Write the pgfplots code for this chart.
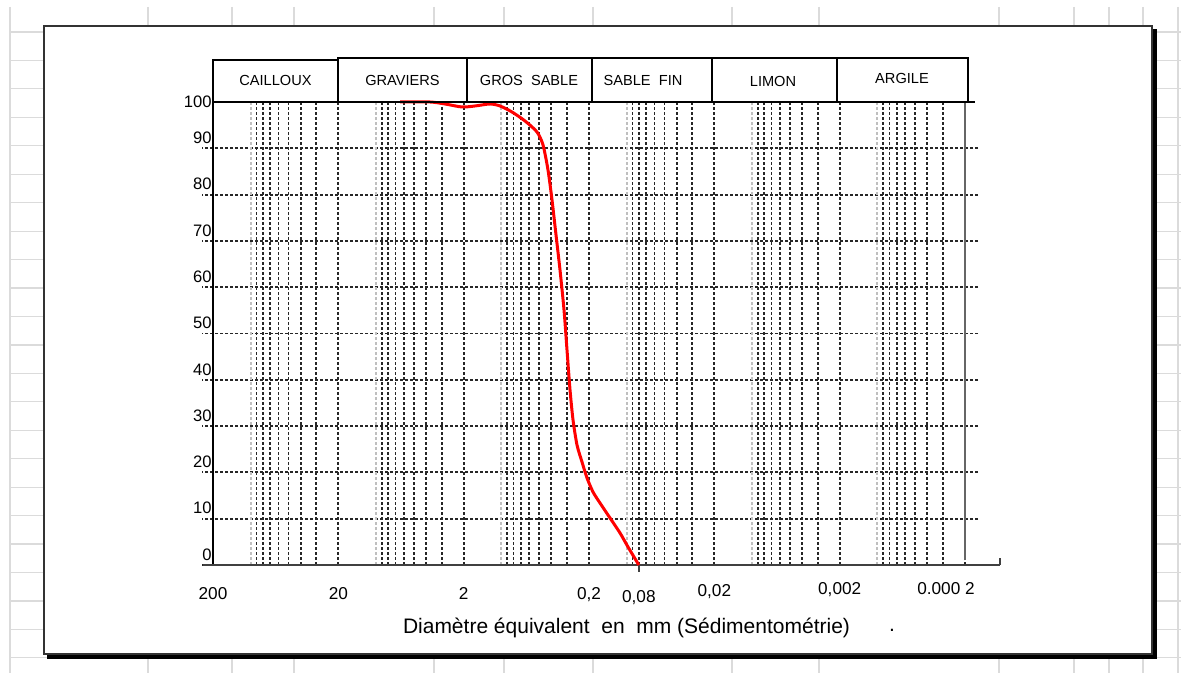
\documentclass[border=0pt]{standalone}
\usepackage{fontspec}
\setmainfont{Liberation Sans}
\usepackage{pgfplots}
\pgfplotsset{compat=1.18}
\begin{document}
\begin{tikzpicture}
\useasboundingbox (0,0) rectangle (590.5pt,336.5pt);
\begin{scope}[x=0.5pt,y=-0.5pt,yshift=336.5pt]
  \foreach \cx in {10,148,232,294,434,504,593,732,819,999,1074,1109,1143,1178}
    \draw[black!14, line width=0.6pt] (\cx,7) -- (\cx,673);
  \foreach \k in {0,...,22}
    \draw[black!14, line width=0.6pt] (10,{32+28.45*\k}) -- (1181,{32+28.45*\k});
  \fill[black] (47,29) rectangle (1157,659);
  \filldraw[fill=white, draw=black!80, line width=0.6pt] (44,26) rectangle (1152,654);
\end{scope}
\begin{axis}[
  at={(101pt,54pt)}, anchor=south west,
  scale only axis, width=388pt, height=231.5pt,
  xmode=log, log basis x=10, x dir=reverse,
  xmin=0.0001575, xmax=244.8, ymin=0, ymax=100,
  clip=false,
  axis line style={draw=none},
  major tick length=0pt, minor tick length=0pt,
  /pgf/number format/assume math mode=true,
  xtick={200,20,2,0.2,0.08,0.02,0.002,0.0002},
  xticklabels={200,20,2,{0,2},{\raisebox{-1.5pt}[\height]{0,08}},{\raisebox{1.5pt}[\height]{0,02}},{\raisebox{2.5pt}[\height]{0,002}},{\raisebox{2.5pt}[\height]{\makebox[0pt]{0.000 2\hspace{19pt}}}}},
  xticklabel style={font=\fontsize{8.6pt}{10pt}\selectfont, anchor=north, inner sep=0pt, yshift=-11pt},
  minor xtick={20,30,40,50,60,70,80,90,2,3,4,5,6,7,8,9,0.2,0.3,0.4,0.5,0.6,0.7,0.8,0.9,0.02,0.03,0.04,0.05,0.06,0.07,0.08,0.09,0.002,0.003,0.004,0.005,0.006,0.007,0.008,0.009,0.0002,0.0003,0.0004,0.0005,0.0006,0.0007,0.0008,0.0009},
  xminorgrids=true, xmajorgrids=false,
  minor grid style={black!85, line width=0.95pt, dash pattern=on 1.6pt off 0.9pt},
  extra x ticks={100,10,1,0.1,0.01,0.001},
  extra x tick labels={},
  extra x tick style={grid=major, major grid style={black!25, line width=0.95pt, dash pattern=on 1.6pt off 0.9pt}},
  ytick={0,10,...,90},
  yticklabels={0,10,20,30,40,50,60,70,80,90},
  ymajorgrids=true,
  major grid style={black!85, line width=0.95pt, dash pattern=on 1.6pt off 0.9pt},
  yticklabel style={font=\fontsize{8.3pt}{10pt}\selectfont, anchor=east, inner sep=0pt, xshift=5pt, yshift=5.25pt},
  extra y ticks={100}, extra y tick labels={100},
  extra y tick style={grid=none, yticklabel style={yshift=-5.25pt}},
]
\draw[black, line width=1.1pt] (axis cs:200,0) -- (axis cs:200,100);
\draw[black!60, line width=0.6pt] (axis cs:0.0002,1) -- (axis cs:0.0002,100);
\draw[black!75, line width=1pt] (axis cs:240.3,0) -- (axis cs:0.0001052,0);
\draw[black!75, line width=1pt] (axis cs:0.0001052,0) -- ++(0pt,3.5pt);
\draw[black!75, line width=1pt] (axis cs:0.08,0) -- ++(0pt,-3.5pt);
\addplot[red, line width=1.5pt, smooth, tension=0.45] coordinates {
(6.44,100) (3.71,100) (2.817,99.57) (2.062,98.92) (1.623,99.14) (1.232,99.57) (1.026,99.14)
(0.823,97.84) (0.648,95.90) (0.520,93.52) (0.4655,90.71) (0.4247,85.31) (0.3946,78.83)
(0.3666,71.27) (0.3407,63.71) (0.3165,55.08) (0.2996,46.44) (0.2834,37.80) (0.2682,31.32)
(0.2493,25.92) (0.2274,22.25) (0.2074,18.79) (0.1858,15.77) (0.1634,13.39) (0.1359,10.15)
(0.1131,6.91) (0.09765,3.89) (0.08278,0.65) (0.080,0)
};
\end{axis}
\begin{scope}[x=0.5pt,y=-0.5pt,yshift=336.5pt]
  \tikzset{hdr/.style={font=\fontsize{7.3pt}{9pt}\selectfont}}
  \draw[black, line width=0.9pt] (213,102) -- (213,60) -- (338,60) -- (338,102);
  \draw[black, line width=0.9pt] (338,102) -- (338,58) -- (467,58) -- (467,102);
  \draw[black, line width=0.9pt] (467,102) -- (467,58) -- (592,58) -- (592,102);
  \draw[black, line width=0.9pt] (592,102) -- (592,58) -- (712,58) -- (712,102);
  \draw[black, line width=0.9pt] (712,102) -- (712,58) -- (837,58) -- (837,102);
  \draw[black, line width=0.9pt] (837,102) -- (837,58) -- (968,58) -- (968,102);
  \draw[black, line width=1pt] (213,102) -- (975,102);
  \node[hdr] at (275.5,80) {CAILLOUX};
  \node[hdr] at (402.5,80) {GRAVIERS};
  \node[hdr] at (529,80) {GROS\ \ SABLE};
  \node[hdr] at (643,80) {SABLE\ \ FIN};
  \node[hdr] at (773,81) {LIMON};
  \node[hdr] at (902,78) {ARGILE};
  \node[font=\fontsize{10.5pt}{12pt}\selectfont] at (626.5,628) {Diamètre\ équivalent\ \ en\ \ mm (Sédimentométrie)};
  \node[font=\fontsize{10.5pt}{12pt}\selectfont] at (892,630) {.};
\end{scope}
\end{tikzpicture}
\end{document}
